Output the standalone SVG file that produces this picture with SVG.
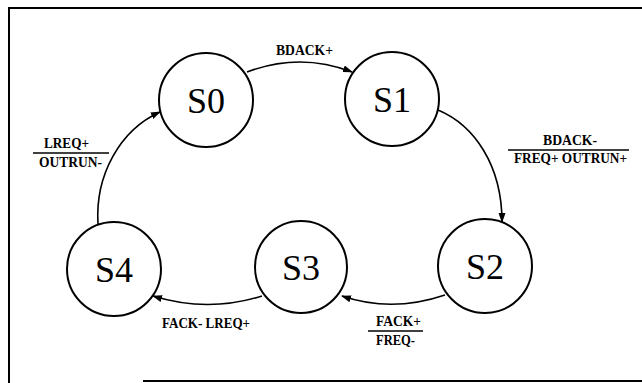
<svg xmlns="http://www.w3.org/2000/svg" width="642" height="383" viewBox="0 0 642 383">
<style>
.st{fill:#fff;stroke:#000;stroke-width:2}
.sl{font-family:"Liberation Serif","Times New Roman",serif;font-size:36px;text-anchor:middle;fill:#000}
.lb{font-family:"Liberation Serif","Times New Roman",serif;font-size:14px;font-weight:bold;fill:#000}
.c{fill:none;stroke:#000;stroke-width:1.6}
.fr{stroke:#000;stroke-width:2;fill:none}
.bar{stroke:#000;stroke-width:1.6}
</style>
<defs>
<marker id="ah" markerWidth="10" markerHeight="8" refX="9" refY="3.5" orient="auto" markerUnits="userSpaceOnUse">
<path d="M0,0 L10,3.5 L0,7 z" fill="#000"/>
</marker>
</defs>
<rect width="642" height="383" fill="#fff"/>
<g id="frame">
<path class="fr" d="M9,383 V8 H642"/>
<path class="fr" d="M143,381 H642"/>
</g>
<g id="connectors">
<path class="c" d="M247,72 Q300,52 352,72" marker-end="url(#ah)"/>
<path class="c" d="M438,110 C474,125 502,165 502,222" marker-end="url(#ah)"/>
<path class="c" d="M445,295 Q392,313 342,296" marker-end="url(#ah)"/>
<path class="c" d="M262,296 Q208,313 153,296" marker-end="url(#ah)"/>
<path class="c" d="M98,224 C95,175 120,130 160,112" marker-end="url(#ah)"/>
<text class="lb" x="276" y="55" textLength="57" lengthAdjust="spacingAndGlyphs">BDACK+</text>
<text class="lb" x="543" y="145" textLength="54" lengthAdjust="spacingAndGlyphs">BDACK-</text>
<line class="bar" x1="508" y1="150" x2="629" y2="150"/>
<text class="lb" x="514" y="163" textLength="113" lengthAdjust="spacingAndGlyphs">FREQ+ OUTRUN+</text>
<text class="lb" x="376" y="326" textLength="45" lengthAdjust="spacingAndGlyphs">FACK+</text>
<line class="bar" x1="368" y1="331" x2="423" y2="331"/>
<text class="lb" x="376" y="345" textLength="39" lengthAdjust="spacingAndGlyphs">FREQ-</text>
<text class="lb" x="162" y="328" textLength="88" lengthAdjust="spacingAndGlyphs">FACK- LREQ+</text>
<text class="lb" x="44" y="148" textLength="45" lengthAdjust="spacingAndGlyphs">LREQ+</text>
<line class="bar" x1="33" y1="153" x2="109" y2="153"/>
<text class="lb" x="39" y="167" textLength="63" lengthAdjust="spacingAndGlyphs">OUTRUN-</text>
</g>
<g id="S0"><circle class="st" cx="206" cy="100" r="47"/><text class="sl" x="206" y="113">S0</text></g>
<g id="S1"><circle class="st" cx="392" cy="99" r="47"/><text class="sl" x="392" y="112">S1</text></g>
<g id="S2"><circle class="st" cx="485" cy="266" r="47"/><text class="sl" x="485" y="279">S2</text></g>
<g id="S3"><circle class="st" cx="301" cy="267" r="46"/><text class="sl" x="301" y="280">S3</text></g>
<g id="S4"><circle class="st" cx="114" cy="269" r="47"/><text class="sl" x="114" y="282">S4</text></g>
</svg>
